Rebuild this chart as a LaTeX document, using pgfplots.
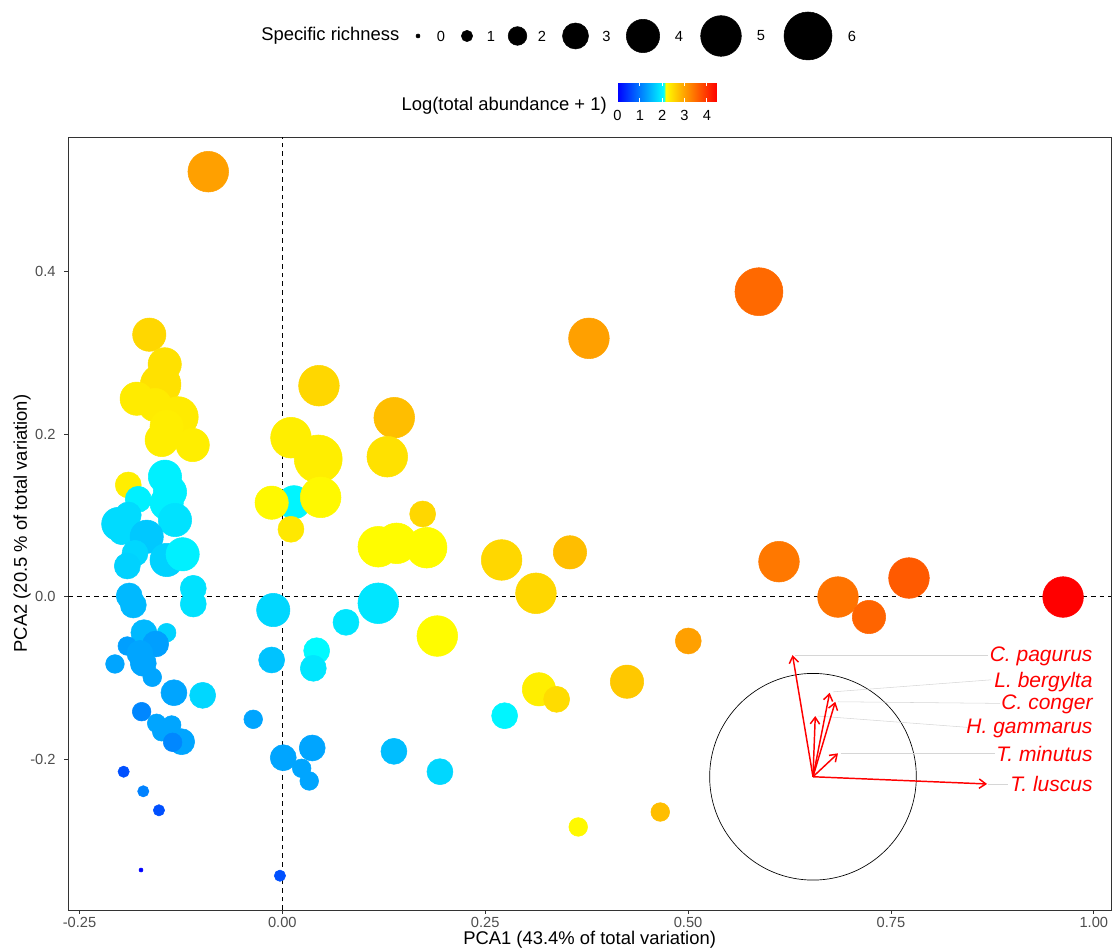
\documentclass[border=0pt]{standalone}
\usepackage{fontspec}
\setmainfont{Liberation Sans}
\usepackage{pgfplots}
\usepackage{pgfplotstable}
\pgfplotsset{compat=1.18}
\usetikzlibrary{arrows.meta}
\definecolor{grey20}{HTML}{333333}
\definecolor{grey30}{HTML}{4D4D4D}
\definecolor{segrey}{HTML}{D6D6D6}

\pgfplotstableread{
x y r c
-0.0913 0.5231 5 3.01
-0.1640 0.3225 4 2.51
-0.1450 0.2860 4 2.42
-0.1500 0.2612 5 2.42
-0.1795 0.2437 4 2.33
-0.1570 0.2359 4 2.33
-0.1287 0.2212 5 2.33
-0.1426 0.2092 4 2.30
-0.1487 0.1929 4 2.30
-0.1105 0.1867 4 2.30
-0.1899 0.1375 3 2.30
-0.1447 0.1477 4 1.96
-0.1385 0.1289 4 1.96
-0.1426 0.1150 4 1.96
-0.1776 0.1199 3 1.96
-0.1323 0.0944 4 1.84
-0.2022 0.0895 4 1.79
-0.1899 0.1006 3 1.79
-0.1980 0.0800 3 1.79
-0.1672 0.0738 4 1.63
-0.1816 0.0534 3 1.75
-0.1911 0.0378 3 1.71
-0.1426 0.0452 4 1.71
-0.1229 0.0522 4 1.96
-0.1887 0.0009 3 1.51
-0.1837 -0.0102 3 1.51
-0.1098 0.0103 3 1.84
-0.1098 -0.0090 3 1.84
-0.1706 -0.0443 3 1.51
-0.1426 -0.0443 2 1.71
-0.1561 -0.0582 3 1.30
-0.1911 -0.0607 2 1.30
-0.1755 -0.0697 3 1.35
-0.1714 -0.0820 3 1.35
-0.2063 -0.0828 2 1.35
-0.1603 -0.0992 2 1.35
-0.1336 -0.1182 3 1.35
-0.0982 -0.1214 3 1.75
-0.1734 -0.1415 2 1.10
-0.1549 -0.1558 2 1.35
-0.1364 -0.1579 2 1.35
-0.1487 -0.1662 2 1.35
-0.1241 -0.1785 3 1.35
-0.1352 -0.1792 2 1.10
-0.1956 -0.2154 1 0.65
-0.1714 -0.2395 1 1.06
-0.1521 -0.2629 1 0.65
-0.1742 -0.3364 0 0.00
0.0451 0.2597 5 2.51
0.1379 0.2203 5 2.74
0.0106 0.1957 5 2.30
0.0442 0.1695 6 2.30
0.1293 0.1723 5 2.42
0.0143 0.1162 4 2.00
-0.0132 0.1157 4 2.20
0.0472 0.1223 5 2.20
0.0106 0.0830 3 2.36
0.1729 0.1018 3 2.51
0.1182 0.0615 5 2.18
0.1408 0.0657 5 2.18
0.1778 0.0603 5 2.18
-0.0112 -0.0164 4 1.75
0.1182 -0.0081 5 1.88
0.0784 -0.0315 3 1.88
0.1909 -0.0484 5 2.18
0.0423 -0.0665 3 2.04
-0.0132 -0.0779 3 1.59
0.0381 -0.0881 3 1.88
-0.0359 -0.1509 2 1.35
0.0368 -0.1862 3 1.35
0.0011 -0.1982 3 1.35
0.0238 -0.2112 2 1.35
0.0331 -0.2268 2 1.35
0.1375 -0.1903 3 1.55
0.1942 -0.2154 3 1.75
-0.0030 -0.3434 1 0.65
0.3778 0.3180 5 3.01
0.5873 0.3754 6 3.50
0.2702 0.0452 5 2.51
0.3544 0.0546 4 2.74
0.3125 0.0042 5 2.51
0.6120 0.0431 5 3.37
0.5002 -0.0545 3 3.01
0.3162 -0.1140 4 2.29
0.3380 -0.1263 3 2.47
0.4247 -0.1046 4 2.65
0.2739 -0.1465 3 2.00
0.3646 -0.2834 2 2.20
0.4657 -0.2650 2 2.74
0.6847 -0.0004 5 3.41
0.7229 -0.0250 4 3.55
0.7722 0.0230 5 3.64
0.9621 -0.0004 5 4.45
}\sites

\pgfplotstableread{
x y r
418 914 0
467 914 1
517.5 914 2
575.5 914 3
643 914 4
721 914 5
808 914 6
}\sizeleg

\begin{document}
\begin{tikzpicture}
\useasboundingbox (0,0) rectangle (836.25pt,712.5pt);
\begin{axis}[
  at={(51.225pt,30pt)}, anchor=south west,
  scale only axis, width=782pt, height=579.75pt,
  xmin=-0.2638, xmax=1.0211, ymin=-0.3856, ymax=0.5658,
  axis line style={color=grey20, line width=0.6pt},
  tick pos=left, tick align=outside, major tick length=3pt,
  tick style={color=grey20, line width=0.6pt},
  xtick={-0.25,0,0.25,0.5,0.75,1},
  xticklabels={-0.25,0.00,0.25,0.50,0.75,1.00},
  ytick={-0.2,0,0.2,0.4},
  yticklabels={-0.2,0.0,0.2,0.4},
  ticklabel style={font=\fontsize{11}{13}\selectfont, text=grey30},
  yticklabel style={xshift=-3pt},
  xticklabel style={yshift=1pt},
  xlabel={PCA1 (43.4\% of total variation)},
  ylabel={PCA2 (20.5 \% of total variation)},
  label style={font=\fontsize{13.8}{16}\selectfont},
  xlabel style={at={(axis description cs:0.5,-0.0388)}, anchor=center},
  ylabel style={at={(axis description cs:-0.0444,0.5)}, anchor=center},
  colormap={abund}{rgb255(0)=(0,0,255) rgb255(208)=(0,255,255) rgb255(215)=(255,255,0) rgb255(445)=(255,0,0)},
  point meta min=0, point meta max=4.45,
  colorbar horizontal,
  colorbar style={
    at={(0.5267,1.0453)}, anchor=south west,
    scale only axis, width=74.6pt, height=15pt,
    xtick={0,1,2,3,4}, xticklabels={0,1,2,3,4},
    xticklabel pos=lower, xtick pos=both,
    tick align=inside, major tick length=3pt,
    xtick style={draw=white, line width=0.6pt},
    axis line style={draw=none},
    ticklabel style={font=\fontsize{11}{13}\selectfont, text=black},
    xticklabel style={yshift=-3pt},
  },
]
\addplot[black, line width=0.6pt, dash pattern=on 3.5pt off 3pt] coordinates {(0,-0.3856) (0,0.5658)};
\addplot[black, line width=0.6pt, dash pattern=on 3.5pt off 3pt] coordinates {(-0.2638,0) (1.0211,0)};

\addplot[scatter, only marks, mark=*, point meta=\thisrow{c},
  scatter/use mapped color={draw=mapped color, fill=mapped color},
  visualization depends on={\thisrow{r} \as \rich},
  scatter/@pre marker code/.append style={/tikz/mark size=1.5+2.75*\rich}]
  table[x=x, y=y] {\sites};

% correlation circle
\draw[black, line width=0.5pt] (axis cs:0.6539,-0.2216) circle[radius=77.5pt];
% connector segments
\draw[segrey, line width=0.4pt] (axis cs:0.6321,-0.0719) -- (axis cs:0.8697,-0.0719);
\draw[segrey, line width=0.4pt] (axis cs:0.6786,-0.1171) -- (axis cs:0.8734,-0.1023);
\draw[segrey, line width=0.4pt] (axis cs:0.6847,-0.1293) -- (axis cs:0.8845,-0.1313);
\draw[segrey, line width=0.4pt] (axis cs:0.6600,-0.1469) -- (axis cs:0.8445,-0.1608);
\draw[segrey, line width=0.4pt] (axis cs:0.6879,-0.1928) -- (axis cs:0.8784,-0.1928);
\draw[segrey, line width=0.4pt] (axis cs:0.8700,-0.2305) -- (axis cs:0.8941,-0.2305);
% arrows
\begin{scope}[red, line width=1.1pt, -{Straight Barb[length=5pt,width=7pt]}]
\draw (axis cs:0.6539,-0.2216) -- (axis cs:0.6287,-0.0719);
\draw (axis cs:0.6539,-0.2216) -- (axis cs:0.6744,-0.1183);
\draw (axis cs:0.6539,-0.2216) -- (axis cs:0.6814,-0.1293);
\draw (axis cs:0.6539,-0.2216) -- (axis cs:0.6567,-0.1469);
\draw (axis cs:0.6539,-0.2216) -- (axis cs:0.6847,-0.1928);
\draw (axis cs:0.6539,-0.2216) -- (axis cs:0.8684,-0.2305);
\end{scope}
\begin{scope}[every node/.style={anchor=east, text=red, inner sep=0pt, font=\fontsize{15.75}{18}\selectfont\itshape}]
\node at (axis cs:0.9987,-0.0740) {C. pagurus};
\node at (axis cs:0.9987,-0.1048) {L. bergylta};
\node at (axis cs:0.9987,-0.1322) {C. conger};
\node at (axis cs:0.9987,-0.1621) {H. gammarus};
\node at (axis cs:0.9987,-0.1937) {T. minutus};
\node at (axis cs:0.9987,-0.2306) {T. luscus};
\end{scope}
\end{axis}

% legend overlay in pixel coordinates
\begin{axis}[
  at={(0pt,0pt)}, anchor=south west,
  scale only axis, width=836.25pt, height=712.5pt,
  xmin=0, xmax=1115, ymin=0, ymax=950,
  hide axis, clip=false,
]
\addplot[scatter, only marks, mark=*, point meta=\thisrow{r},
  scatter/use mapped color={draw=black, fill=black},
  visualization depends on={\thisrow{r} \as \rich},
  scatter/@pre marker code/.append style={/tikz/mark size=1.5+2.75*\rich}]
  table[x=x, y=y] {\sizeleg};
\begin{scope}[every node/.style={anchor=center, inner sep=0pt, font=\fontsize{11}{13}\selectfont}]
\node at (axis cs:441,914) {0};
\node at (axis cs:491,914) {1};
\node at (axis cs:542,914) {2};
\node at (axis cs:606.5,914) {3};
\node at (axis cs:679,914) {4};
\node at (axis cs:761,914) {5};
\node at (axis cs:852,914) {6};
\end{scope}
\node[anchor=west, inner sep=0pt, font=\fontsize{13.8}{16}\selectfont] at (axis cs:261,914) {Specific richness};
\node[anchor=east, inner sep=0pt, font=\fontsize{13.8}{16}\selectfont] at (axis cs:607,844) {Log(total abundance + 1)};
\end{axis}
\end{tikzpicture}
\end{document}
